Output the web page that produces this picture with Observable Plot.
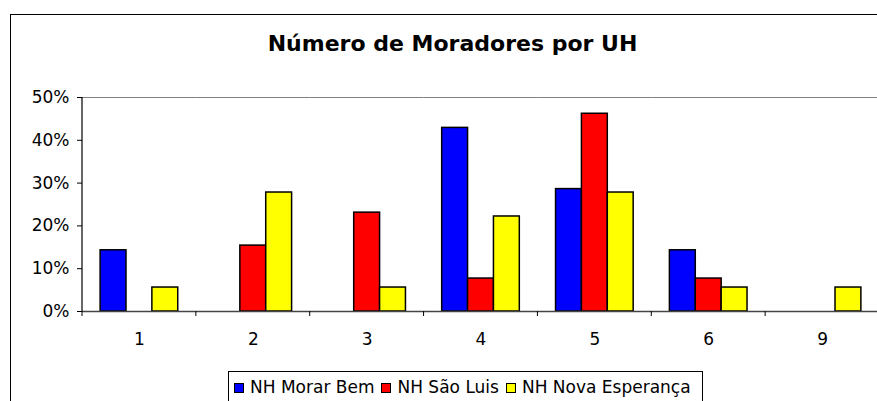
<!DOCTYPE html>
<html>
<head>
<meta charset="utf-8">
<script src="https://cdn.jsdelivr.net/npm/d3@7"></script>
<script src="https://cdn.jsdelivr.net/npm/@observablehq/plot@0.6"></script>
<style>
  html, body { margin: 0; padding: 0; background: #fff; }
  #wrap { position: relative; width: 877px; height: 401px; overflow: hidden; background: #fff; font-family: "DejaVu Sans", sans-serif; }
  #frame { position: absolute; left: 10px; top: 14px; width: 1000px; height: 600px; border-left: 1.5px solid #000; border-top: 1.5px solid #000; box-sizing: border-box; }
  #title { position: absolute; left: 452.5px; top: 33.4px; transform: translateX(-50%); white-space: nowrap; font-weight: bold; font-size: 22px; line-height: 22px; color: #000; }
  #chart { position: absolute; left: 0; top: 0; width: 900px; height: 401px; }
  #chart svg { max-width: none !important; width: 900px !important; height: 401px !important; }
  #legend { position: absolute; left: 228px; top: 371px; width: 475px; height: 60px; border: 1px solid #000; box-sizing: border-box; background: #fff; padding: 7px 0 0 5px; display: flex; font-size: 17px; line-height: 17px; white-space: nowrap; }
  .item { display: flex; align-items: baseline; margin-right: 7px; }
  .sw { display: inline-block; width: 10px; height: 10px; border: 1px solid #000; box-sizing: border-box; margin-right: 6px; position: relative; top: 0px; }
</style>
</head>
<body>
<div id="wrap">
  <div id="frame"></div>
  <div id="chart"></div>
  <div id="title"></div>
  <div id="legend"></div>
</div>
<script>
const titleText = "Número de Moradores por UH";
const categories = ["1", "2", "3", "4", "5", "6", "9"];
const seriesNames = ["NH Morar Bem", "NH São Luis", "NH Nova Esperança"];
const morarBem = [14.3, 0, 0, 42.9, 28.6, 14.3, 0];
const saoLuis = [0, 15.4, 23.1, 7.7, 46.2, 7.7, 0];
const novaEsperanca = [5.6, 27.8, 5.6, 22.2, 27.8, 5.6, 5.6];
const seriesColors = ["#0000FF", "#FF0000", "#FFFF00"];
const yTicks = [0, 10, 20, 30, 40, 50];

const seriesValues = [morarBem, saoLuis, novaEsperanca];
const data = [];
categories.forEach((c, i) => {
  seriesNames.forEach((s, j) => {
    data.push({cat: c, series: s, value: seriesValues[j][i]});
  });
});

document.getElementById("title").textContent = titleText;

const chart = Plot.plot({
  width: 900,
  height: 401,
  marginLeft: 82,
  marginRight: 21,
  marginTop: 97,
  marginBottom: 90,
  style: {fontFamily: "DejaVu Sans", fontSize: "17px", color: "#000", background: "transparent", overflow: "visible", maxWidth: "none"},
  facet: {data: data, x: "cat"},
  fx: {domain: categories, padding: 0, round: false, axis: "bottom", tickSize: 0, tickPadding: 21, label: null},
  x: {domain: seriesNames, paddingInner: 0, paddingOuter: 0.7, round: false, axis: null},
  y: {domain: [0, 50], ticks: yTicks, tickFormat: d => d + "%", tickSize: 5, tickPadding: 8, label: null},
  color: {domain: seriesNames, range: seriesColors},
  marks: [
    Plot.ruleY([50], {stroke: "#808080", strokeWidth: 1}),
    Plot.barY(data, {x: "series", y: "value", fill: "series", stroke: "#000", strokeWidth: 1.5, filter: d => d.value > 0}),
    Plot.ruleY([0], {stroke: "#444", strokeWidth: 1.5})
  ]
});
document.getElementById("chart").appendChild(chart);

// axis line and category boundary ticks, from the library's scales
const fx = chart.scale("fx");
const ys = chart.scale("y");
const svg = d3.select(chart);
const x0 = fx.apply(categories[0]);
const bw = fx.bandwidth;
svg.append("line")
  .attr("x1", x0).attr("x2", x0)
  .attr("y1", ys.apply(50)).attr("y2", ys.apply(0))
  .attr("stroke", "#000").attr("stroke-width", 1.2);
const edges = categories.map(c => fx.apply(c)).concat([fx.apply(categories[categories.length - 1]) + bw]);
svg.append("g").selectAll("line").data(edges).join("line")
  .attr("x1", d => d).attr("x2", d => d)
  .attr("y1", ys.apply(0)).attr("y2", ys.apply(0) + 5)
  .attr("stroke", "#000").attr("stroke-width", 1);

// legend
const legend = d3.select("#legend");
seriesNames.forEach((s, i) => {
  const it = legend.append("div").attr("class", "item");
  it.append("span").attr("class", "sw").style("background", seriesColors[i]);
  it.append("span").text(s);
});
</script>
</body>
</html>
